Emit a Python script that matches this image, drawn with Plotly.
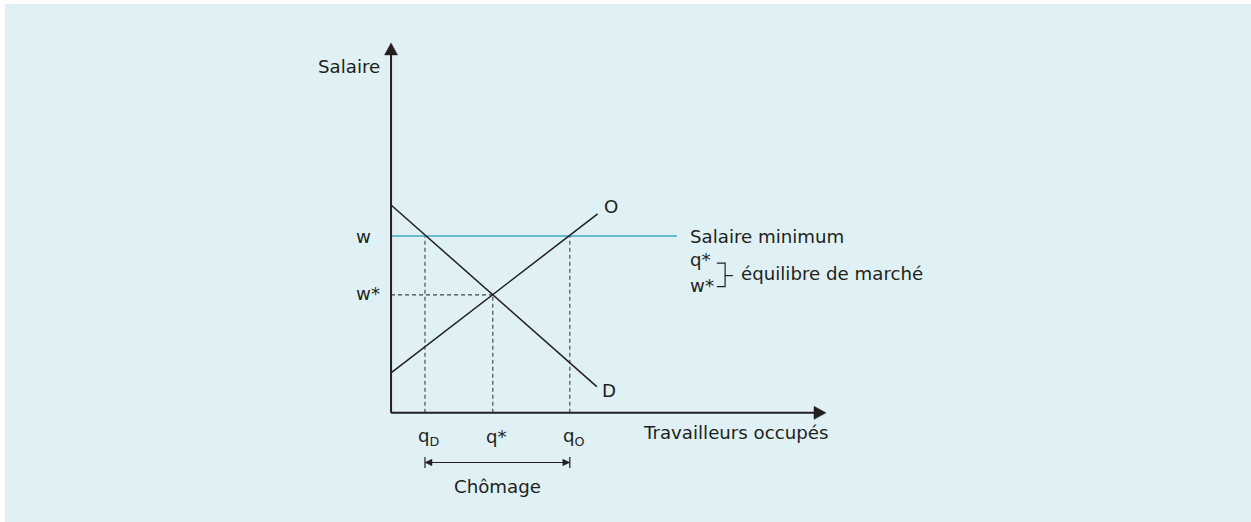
import plotly.graph_objects as go

# ---- data (abstract units: quantity 0-100, wage 0-100) ----
demand_q = [0, 47.3]
demand_w = [56.2, 7.1]
supply_q = [0, 47.5]
supply_w = [10.8, 53.8]
min_wage_q = [0, 65.7]
w_min = 47.8
q_D = 7.8
q_star = 23.4
q_O = 41.1
w_star = 31.9
axis_q_max = 100
axis_w_max = 100

q_labels = ["q<sub>D</sub>", "q*", "q<sub>O</sub>"]
q_values = [q_D, q_star, q_O]

INK = "#231f20"
DASH = "#404040"
BLUE = "#3ea8c8"
BG = "#dff1f4"
FONT = "DejaVu Sans"
FS = 18.2

W, H = 1251, 522
X_RANGE = [-89.9, 197.7]
Y_RANGE = [-29.5, 111.6]
PX_Q = W / (X_RANGE[1] - X_RANGE[0])   # pixels per q unit
PX_W = H / (Y_RANGE[1] - Y_RANGE[0])   # pixels per w unit

fig = go.Figure()

def line(xs, ys, color=INK, width=1.5, dash=None):
    fig.add_trace(go.Scatter(x=xs, y=ys, mode="lines",
                             line=dict(color=color, width=width, dash=dash),
                             hoverinfo="skip", showlegend=False))

def head(tip_x, tip_y, direction, length_px, half_px):
    """filled arrow head polygon, direction in {'up','right','left'}"""
    if direction == "up":
        L = length_px / PX_W; h = half_px / PX_Q
        xs = [tip_x - h, tip_x + h, tip_x, tip_x - h]
        ys = [tip_y - L, tip_y - L, tip_y, tip_y - L]
    else:
        s = 1 if direction == "right" else -1
        L = length_px / PX_Q; h = half_px / PX_W
        xs = [tip_x - s * L, tip_x - s * L, tip_x, tip_x - s * L]
        ys = [tip_y - h, tip_y + h, tip_y, tip_y - h]
    fig.add_trace(go.Scatter(x=xs, y=ys, mode="lines", fill="toself",
                             fillcolor=INK, line=dict(color=INK, width=0.5),
                             hoverinfo="skip", showlegend=False))

# dashed guide lines
for q, w in [(q_D, w_min), (q_star, w_star), (q_O, w_min)]:
    line([q, q], [0, w], color=DASH, width=1.1, dash="4px,3px")
line([0, q_star], [w_star, w_star], color=DASH, width=1.1, dash="4px,3px")

# minimum wage
line(min_wage_q, [w_min, w_min], color=BLUE, width=1.6)
# demand and supply
line(demand_q, demand_w)
line(supply_q, supply_w)

# axes with arrow heads
line([0, 0], [0, axis_w_max - 10 / PX_W], width=2)
line([0, axis_q_max - 10 / PX_Q], [0, 0], width=2)
head(0, axis_w_max, "up", 12, 6.5)
head(axis_q_max, 0, "right", 12, 6.5)

# legend bracket
line([74.9, 76.8, 76.8, 74.9], [40.5, 40.5, 34.1, 34.1], width=1.2)
line([76.8, 78.6], [37.1, 37.1], width=1.2)

# chômage double arrow
y_ch = -13.4
line([q_D + 5 / PX_Q, q_O - 5 / PX_Q], [y_ch, y_ch], width=1.1)
head(q_D, y_ch, "left", 7, 3.2)
head(q_O, y_ch, "right", 7, 3.2)
for q in [q_D, q_O]:
    line([q, q], [-11.9, -14.9], width=1.2)

ann = []

def txt(x, y, s, xanchor="left", xshift=0, yshift=0, size=FS):
    ann.append(dict(x=x, y=y, xref="x", yref="y", text=s, showarrow=False,
                    xanchor=xanchor, yanchor="middle", xshift=xshift, yshift=yshift,
                    font=dict(family=FONT, size=size, color=INK)))

txt(-2.0, 93.6, "Salaire", xanchor="right")
txt(-8.6, w_min, "w")
txt(-8.6, w_star + 0.3, "w*")
txt(supply_q[1], supply_w[1], "O", xanchor="center", xshift=13, yshift=7)
txt(demand_q[1], demand_w[1], "D", xanchor="center", xshift=12, yshift=-4)
txt(min_wage_q[1], w_min, "Salaire minimum", xshift=11)
txt(68.3, 41.4, "q*")
txt(68.3, 34.3, "w*")
txt(80.0, 37.8, "équilibre de marché")
for s, q in zip(q_labels, q_values):
    txt(q, -6.4, s, xanchor="center", xshift=4)
txt(57.4, -5.4, "Travailleurs occupés")
txt((q_D + q_O) / 2, -20.0, "Chômage", xanchor="center")

fig.update_layout(
    width=W, height=H, autosize=False,
    margin=dict(l=0, r=0, t=0, b=0),
    paper_bgcolor="white", plot_bgcolor="rgba(0,0,0,0)",
    xaxis=dict(visible=False, range=X_RANGE, fixedrange=True),
    yaxis=dict(visible=False, range=Y_RANGE, fixedrange=True),
    shapes=[dict(type="rect", xref="paper", yref="paper",
                 x0=5 / W, x1=1, y0=0, y1=1 - 4 / H,
                 fillcolor=BG, line=dict(width=0), layer="below")],
    annotations=ann,
    showlegend=False,
)

fig.write_html("out.html", config={"displayModeBar": False},
               post_script="document.body.style.margin='0';document.body.style.overflow='hidden';")
